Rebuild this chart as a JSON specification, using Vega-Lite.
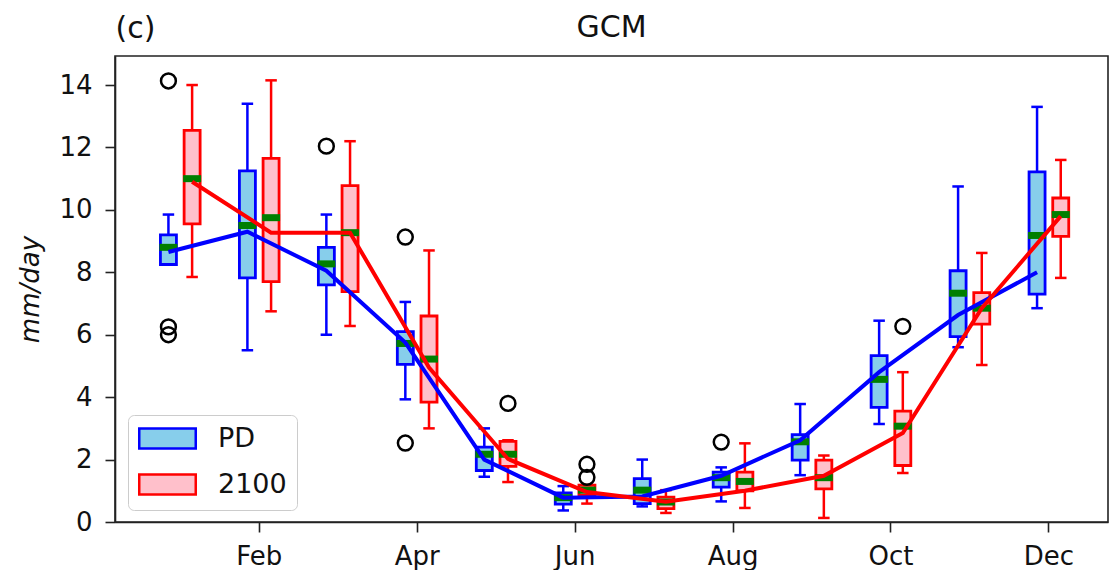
{
  "$schema": "https://vega.github.io/schema/vega-lite/v6.json",
  "width": 993,
  "height": 466,
  "autosize": {"type": "none"},
  "padding": {"left": 115, "top": 56, "right": 1, "bottom": 48},
  "background": "white",
  "config": {
    "font": "DejaVu Sans",
    "view": {"stroke": "#222222", "strokeWidth": 1.6},
    "axis": {
      "grid": false,
      "domainColor": "#222222",
      "domainWidth": 1.6,
      "tickColor": "#222222",
      "tickWidth": 1.6,
      "tickSize": 10,
      "labelFont": "DejaVu Sans",
      "labelFontSize": 26,
      "labelColor": "#111111",
      "titleFont": "DejaVu Sans",
      "titleFontWeight": "normal",
      "titleColor": "#111111"
    },
    "legend": {
      "labelFont": "DejaVu Sans",
      "labelFontSize": 27,
      "labelColor": "#111111"
    }
  },
  "title": {
    "text": "GCM",
    "font": "DejaVu Sans",
    "fontSize": 30,
    "fontWeight": "normal",
    "color": "#111111",
    "anchor": "middle",
    "frame": "group",
    "baseline": "alphabetic",
    "offset": -54
  },
  "datasets": {
    "boxes": [
      {"m": 1, "series": "PD", "lo": 8.25, "q1": 8.25, "med": 8.8, "q3": 9.2, "hi": 9.85, "mean": 8.65},
      {"m": 1, "series": "2100", "lo": 7.85, "q1": 9.55, "med": 11.0, "q3": 12.55, "hi": 14.0, "mean": 10.9},
      {"m": 2, "series": "PD", "lo": 5.5, "q1": 7.82, "med": 9.5, "q3": 11.25, "hi": 13.4, "mean": 9.3},
      {"m": 2, "series": "2100", "lo": 6.75, "q1": 7.7, "med": 9.75, "q3": 11.65, "hi": 14.15, "mean": 9.27},
      {"m": 3, "series": "PD", "lo": 6.0, "q1": 7.6, "med": 8.27, "q3": 8.8, "hi": 9.85, "mean": 8.05},
      {"m": 3, "series": "2100", "lo": 6.28, "q1": 7.38, "med": 9.27, "q3": 10.78, "hi": 12.2, "mean": 9.27},
      {"m": 4, "series": "PD", "lo": 3.93, "q1": 5.05, "med": 5.72, "q3": 6.1, "hi": 7.05, "mean": 5.75},
      {"m": 4, "series": "2100", "lo": 3.0, "q1": 3.84, "med": 5.22, "q3": 6.6, "hi": 8.7, "mean": 4.95},
      {"m": 5, "series": "PD", "lo": 1.45, "q1": 1.65, "med": 2.17, "q3": 2.4, "hi": 3.0, "mean": 2.0},
      {"m": 5, "series": "2100", "lo": 1.28, "q1": 1.78, "med": 2.17, "q3": 2.58, "hi": 2.62, "mean": 2.02},
      {"m": 6, "series": "PD", "lo": 0.37, "q1": 0.57, "med": 0.78, "q3": 0.93, "hi": 1.15, "mean": 0.78},
      {"m": 6, "series": "2100", "lo": 0.59, "q1": 0.86, "med": 1.02, "q3": 1.18, "hi": 1.18, "mean": 0.96},
      {"m": 7, "series": "PD", "lo": 0.5, "q1": 0.59, "med": 1.02, "q3": 1.39, "hi": 2.0, "mean": 0.82},
      {"m": 7, "series": "2100", "lo": 0.29, "q1": 0.43, "med": 0.64, "q3": 0.8, "hi": 1.02, "mean": 0.65},
      {"m": 8, "series": "PD", "lo": 0.66, "q1": 1.12, "med": 1.42, "q3": 1.6, "hi": 1.75, "mean": 1.48},
      {"m": 8, "series": "2100", "lo": 0.45, "q1": 1.0, "med": 1.3, "q3": 1.6, "hi": 2.52, "mean": 1.0},
      {"m": 9, "series": "PD", "lo": 1.5, "q1": 1.98, "med": 2.57, "q3": 2.8, "hi": 3.78, "mean": 2.62},
      {"m": 9, "series": "2100", "lo": 0.13, "q1": 1.06, "med": 1.42, "q3": 1.98, "hi": 2.13, "mean": 1.48},
      {"m": 10, "series": "PD", "lo": 3.14, "q1": 3.67, "med": 4.57, "q3": 5.33, "hi": 6.45, "mean": 4.8},
      {"m": 10, "series": "2100", "lo": 1.57, "q1": 1.81, "med": 3.07, "q3": 3.55, "hi": 4.8, "mean": 2.85},
      {"m": 11, "series": "PD", "lo": 5.6, "q1": 5.94, "med": 7.33, "q3": 8.05, "hi": 10.75, "mean": 6.63},
      {"m": 11, "series": "2100", "lo": 5.03, "q1": 6.34, "med": 6.85, "q3": 7.35, "hi": 8.62, "mean": 6.85},
      {"m": 12, "series": "PD", "lo": 6.85, "q1": 7.3, "med": 9.18, "q3": 11.22, "hi": 13.3, "mean": 8.0},
      {"m": 12, "series": "2100", "lo": 7.82, "q1": 9.15, "med": 9.85, "q3": 10.38, "hi": 11.6, "mean": 9.8}
    ],
    "outliers": [
      {"m": 1, "series": "PD", "value": 14.13},
      {"m": 1, "series": "PD", "value": 6.25},
      {"m": 1, "series": "PD", "value": 6.0},
      {"m": 3, "series": "PD", "value": 12.04},
      {"m": 4, "series": "PD", "value": 9.13},
      {"m": 4, "series": "PD", "value": 2.53},
      {"m": 5, "series": "2100", "value": 3.8},
      {"m": 6, "series": "2100", "value": 1.85},
      {"m": 6, "series": "2100", "value": 1.43},
      {"m": 8, "series": "PD", "value": 2.56},
      {"m": 10, "series": "2100", "value": 6.27}
    ]
  },
  "resolve": {"axis": {"x": "independent"}},
  "layer": [
    {
      "data": {"name": "boxes"},
      "mark": {"type": "bar", "width": 16, "strokeWidth": 2.8, "opacity": 1},
      "encoding": {
        "x": {
          "field": "m", "type": "ordinal",
          "scale": {"type": "band", "domain": [1,2,3,4,5,6,7,8,9,10,11,12], "paddingInner": 0, "paddingOuter": 0.2875, "align": 0.568},
          "axis": {
            "orient": "bottom",
            "values": [2,4,6,8,10,12],
            "labelExpr": "['Jan','Feb','Mar','Apr','May','Jun','Jul','Aug','Sep','Oct','Nov','Dec'][datum.value - 1]",
            "labelAngle": 0,
            "labelPadding": 11,
            "title": null
          }
        },
        "xOffset": {"field": "series", "type": "nominal", "scale": {"domain": ["PD", "2100"], "paddingInner": 0, "paddingOuter": 0.667}},
        "y": {
          "field": "q1", "type": "quantitative",
          "scale": {"domain": [0, 14.93], "nice": false, "zero": false},
          "axis": {"values": [0,2,4,6,8,10,12,14], "labelPadding": 13, "title": "mm/day", "titleFontStyle": "italic", "titleFontSize": 26, "titlePadding": 15},
          "title": "mm/day"
        },
        "y2": {"field": "q3"},
        "fill": {
          "field": "series", "type": "nominal",
          "scale": {"domain": ["PD", "2100"], "range": ["#87CEEB", "#FFC0CB"]},
          "title": null,
          "legend": {
            "orient": "none", "legendX": 13, "legendY": 359, "direction": "vertical",
            "symbolType": "M-2.69,-0.96H2.69V0.96H-2.69Z", "symbolSize": 441, "symbolStrokeWidth": 2.5,
            "symbolOffset": 16, "labelOffset": 37, "labelFontSize": 27,
            "fillColor": "white", "strokeColor": "#cccccc", "cornerRadius": 6,
            "padding": 10, "rowPadding": 15
          }
        },
        "stroke": {
          "field": "series", "type": "nominal",
          "scale": {"domain": ["PD", "2100"], "range": ["blue", "red"]},
          "title": null,
          "legend": {
            "orient": "none", "legendX": 13, "legendY": 359, "direction": "vertical",
            "symbolType": "M-2.69,-0.96H2.69V0.96H-2.69Z", "symbolSize": 441, "symbolStrokeWidth": 2.5,
            "symbolOffset": 16, "labelOffset": 37, "labelFontSize": 27,
            "fillColor": "white", "strokeColor": "#cccccc", "cornerRadius": 6,
            "padding": 10, "rowPadding": 15
          }
        }
      }
    },
    {
      "data": {"name": "boxes"},
      "mark": {"type": "rule", "strokeWidth": 2.5},
      "encoding": {
        "x": {"field": "m", "type": "ordinal", "axis": null},
        "xOffset": {"field": "series", "type": "nominal"},
        "y": {"field": "lo", "type": "quantitative", "title": "mm/day"},
        "y2": {"field": "q1"},
        "stroke": {"field": "series", "type": "nominal", "title": null}
      }
    },
    {
      "data": {"name": "boxes"},
      "mark": {"type": "rule", "strokeWidth": 2.5},
      "encoding": {
        "x": {"field": "m", "type": "ordinal", "axis": null},
        "xOffset": {"field": "series", "type": "nominal"},
        "y": {"field": "q3", "type": "quantitative", "title": "mm/day"},
        "y2": {"field": "hi"},
        "stroke": {"field": "series", "type": "nominal", "title": null}
      }
    },
    {
      "data": {"name": "boxes"},
      "mark": {"type": "tick", "size": 9, "thickness": 0.01, "filled": false, "strokeWidth": 2.5, "opacity": 1},
      "encoding": {
        "x": {"field": "m", "type": "ordinal", "axis": null},
        "xOffset": {"field": "series", "type": "nominal"},
        "y": {"field": "lo", "type": "quantitative", "title": "mm/day"},
        "stroke": {"field": "series", "type": "nominal", "title": null}
      }
    },
    {
      "data": {"name": "boxes"},
      "mark": {"type": "tick", "size": 9, "thickness": 0.01, "filled": false, "strokeWidth": 2.5, "opacity": 1},
      "encoding": {
        "x": {"field": "m", "type": "ordinal", "axis": null},
        "xOffset": {"field": "series", "type": "nominal"},
        "y": {"field": "hi", "type": "quantitative", "title": "mm/day"},
        "stroke": {"field": "series", "type": "nominal", "title": null}
      }
    },
    {
      "data": {"name": "boxes"},
      "mark": {"type": "tick", "size": 18, "thickness": 7, "color": "#007f00", "opacity": 1},
      "encoding": {
        "x": {
          "field": "m", "type": "ordinal",
          "axis": {"orient": "top", "labels": false, "ticks": false, "domain": false, "title": "(c)", "titleX": 0, "titleY": -19, "titleAlign": "left", "titleAnchor": "start", "titleBaseline": "alphabetic", "titleFontSize": 30, "titleAngle": 0}
        },
        "xOffset": {"field": "series", "type": "nominal"},
        "y": {"field": "med", "type": "quantitative", "title": "mm/day"}
      }
    },
    {
      "data": {"name": "boxes"},
      "mark": {"type": "line", "strokeWidth": 4},
      "encoding": {
        "x": {"field": "m", "type": "ordinal", "axis": null},
        "xOffset": {"field": "series", "type": "nominal"},
        "y": {"field": "mean", "type": "quantitative", "title": "mm/day"},
        "stroke": {"field": "series", "type": "nominal", "title": null},
        "order": {"field": "m", "type": "quantitative"}
      }
    },
    {
      "data": {"name": "outliers"},
      "mark": {"type": "point", "shape": "circle", "filled": false, "size": 220, "strokeWidth": 2.5, "color": "black", "opacity": 1},
      "encoding": {
        "x": {"field": "m", "type": "ordinal", "axis": null},
        "xOffset": {"field": "series", "type": "nominal"},
        "y": {"field": "value", "type": "quantitative", "title": "mm/day"}
      }
    }
  ]
}
